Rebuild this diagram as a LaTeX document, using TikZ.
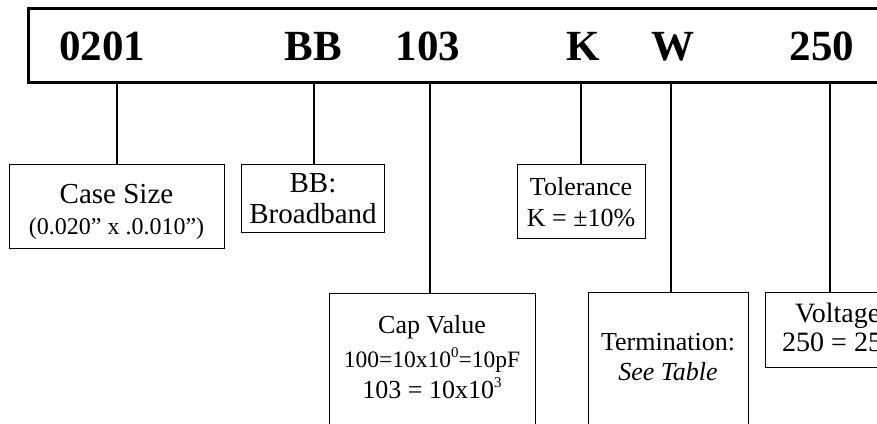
\documentclass[tikz,border=0pt]{standalone}
\usepackage{fontspec}
\setmainfont{Liberation Serif}
\newcommand{\mysup}[1]{\raisebox{0.42em}{\fontsize{15}{15}\selectfont #1}}
\begin{document}
\begin{tikzpicture}[x=1pt,y=-1pt,
  topbox/.style={draw, line width=3pt, inner sep=0pt, anchor=north west},
  infobox/.style={draw, line width=0.8pt, inner sep=0pt, anchor=north west},
  conn/.style={line width=2pt},
  code/.style={font=\fontsize{43}{43}\selectfont\bfseries, anchor=base, inner sep=0pt},
  lblA/.style={font=\fontsize{29}{29}\selectfont, anchor=base, inner sep=0pt},
  lblB/.style={font=\fontsize{26}{26}\selectfont, anchor=base, inner sep=0pt},
  lblC/.style={font=\fontsize{24}{24}\selectfont, anchor=base, inner sep=0pt},
  lblV/.style={font=\fontsize{28}{28}\selectfont, anchor=base west, inner sep=0pt}]
\useasboundingbox (0,0) rectangle (877,423);
\clip (0,0) rectangle (877,423);

% top part-number box
\node[topbox, minimum width=880pt, minimum height=74pt] (top) at (27,7) {};
\node[code] (c0201) at (102,60) {0201};
\node[code] (cBB) at (313,60) {BB};
\node[code] (c103) at (428,60) {103};
\node[code] (cK) at (583,60) {K};
\node[code] (cW) at (673,60) {W};
\node[code] (c250) at (822,60) {250};

% attachment points on the top box
\coordinate (p0201) at (117,81);
\coordinate (pBB) at (314,81);
\coordinate (p103) at (430,81);
\coordinate (pK) at (581,81);
\coordinate (pW) at (671,81);
\coordinate (p250) at (830,81);

% description boxes
\node[infobox, minimum width=215pt, minimum height=84pt] (case) at (9,164) {};
\node[infobox, minimum width=143pt, minimum height=68pt] (bb) at (241,164) {};
\node[infobox, minimum width=128pt, minimum height=74pt] (tol) at (517,164) {};
\node[infobox, minimum width=206pt, minimum height=150pt] (cap) at (329,293) {};
\node[infobox, minimum width=160pt, minimum height=150pt] (term) at (588,292) {};
\node[infobox, minimum width=150pt, minimum height=75pt] (volt) at (765,292) {};

% texts
\node[lblA] (t1a) at (116.5,203) {Case Size};
\node[lblC] (t1b) at (116.5,234) {(0.020” x .0.010”)};
\node[lblA] (t2a) at (313,192) {BB:};
\node[lblA] (t2b) at (313,223) {Broadband};
\node[lblB] (t3a) at (581,195) {Tolerance};
\node[lblB] (t3b) at (581,226) {K = ±10\%};
\node[lblB] (t4a) at (432,333) {Cap Value};
\node[font=\fontsize{23.5}{23.5}\selectfont, anchor=base, inner sep=0pt] (t4b) at (432,367) {100=10x10\mysup{0}=10pF};
\node[lblB] (t4c) at (432,398) {103 = 10x10\mysup{3}};
\node[lblB] (t5a) at (668,350) {Termination:};
\node[lblB, font=\fontsize{26}{26}\selectfont\itshape] (t5b) at (668,380) {See Table};
\node[lblV] (t6a) at (795,322) {Voltage};
\node[lblV] (t6b) at (782,351) {250 = 25V};

% connectors
\draw[conn] (p0201) -- (p0201 |- case.north);
\draw[conn] (pBB) -- (pBB |- bb.north);
\draw[conn] (p103) -- (p103 |- cap.north);
\draw[conn] (pK) -- (pK |- tol.north);
\draw[conn] (pW) -- (pW |- term.north);
\draw[conn] (p250) -- (p250 |- volt.north);
\end{tikzpicture}
\end{document}
